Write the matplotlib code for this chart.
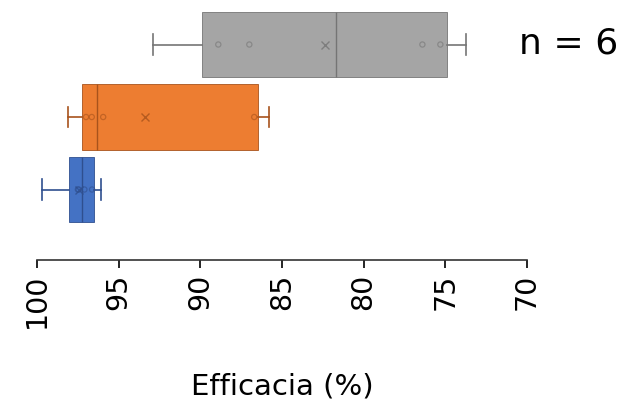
import numpy as np
import matplotlib.pyplot as plt

# efficacy values (%) for the three groups, 6 replicates each
blue_vals = [96.1, 96.63, 97.1, 97.45, 97.5, 99.7]
orange_vals = [85.8, 86.7, 95.95, 96.65, 97.0, 98.1]
gray_vals = [73.7, 75.3, 76.4, 87.0, 88.9, 92.9]

groups = [blue_vals, orange_vals, gray_vals]
fills = ["#4472C4", "#ED7D31", "#A5A5A5"]
darks = ["#2F4F8F", "#A8531C", "#757575"]
ticks = [100, 95, 90, 85, 80, 75, 70]


def box_stats(vals):
    v = np.asarray(vals, dtype=float)
    q1, med, q3 = np.percentile(v, [25, 50, 75], method="weibull")
    return dict(med=med, q1=q1, q3=q3, whislo=v.min(), whishi=v.max(),
                mean=v.mean(), fliers=[])


fig = plt.figure(figsize=(6.28, 4.12), dpi=100)
ax = fig.add_axes([0.059, 0.369, 0.78, 0.631])

for i, (vals, fc, dc) in enumerate(zip(groups, fills, darks)):
    pos = i + 1
    ax.bxp([box_stats(vals)], positions=[pos], widths=0.9, vert=False,
           patch_artist=True, showmeans=True, showfliers=False,
           capwidths=[0.28],
           boxprops=dict(facecolor=fc, edgecolor=dc, linewidth=0.6),
           medianprops=dict(color=dc, linewidth=1.0),
           whiskerprops=dict(color=dc, linewidth=1.2),
           capprops=dict(color=dc, linewidth=1.2),
           meanprops=dict(marker="x", markeredgecolor=dc, markersize=6,
                          markeredgewidth=1.0, alpha=0.8))
    # inner points
    ax.scatter(vals[1:-1], [pos] * (len(vals) - 2), s=14, marker="o",
               facecolor="none", edgecolor=dc, linewidth=0.9, alpha=0.6,
               zorder=4)

ax.set_xlim(100, 70)
ax.set_ylim(0.028, 3.614)
ax.set_xticks(ticks)
ax.set_xticklabels([str(t) for t in ticks], rotation=90, fontsize=20.5)
ax.tick_params(axis="x", length=6, width=1.2, pad=4, colors="black")
ax.set_yticks([])
for s in ["left", "top", "right"]:
    ax.spines[s].set_visible(False)
ax.spines["bottom"].set_linewidth(1.2)
ax.spines["bottom"].set_color("#333333")
ax.set_xlabel("Efficacia (%)", fontsize=21, labelpad=32)

fig.text(0.984, 0.871, "n = 6", fontsize=26, ha="right", va="baseline")

fig.savefig("out.png", dpi=100)
